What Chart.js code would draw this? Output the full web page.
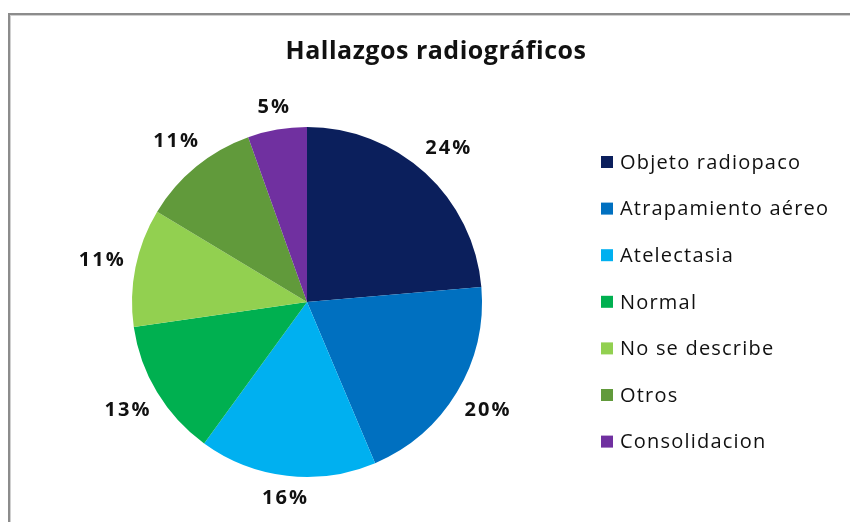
<!DOCTYPE html>
<html>
<head>
<meta charset="utf-8">
<script src="https://cdn.jsdelivr.net/npm/chart.js@4/dist/chart.umd.min.js"></script>
<style>
  html, body { margin: 0; padding: 0; background: #fff; }
  #frame {
    position: absolute; left: 8px; top: 13px; width: 850px; height: 520px;
    border-left: 2px solid #8c8c8c; border-top: 2px solid #8c8c8c;
    box-shadow: inset 1px 1px 0 #d0d0d0;
  }
  #wrap { position: absolute; left: 0; top: 0; width: 850px; height: 522px; }
</style>
</head>
<body>
<div id="frame"></div>
<div id="wrap"><canvas id="chart" width="850" height="522"></canvas></div>
<script>
// Data for the chart (case counts; labels show the rounded share)
const titleText = 'Hallazgos radiográficos';
const categories = ['Objeto radiopaco', 'Atrapamiento aéreo', 'Atelectasia', 'Normal', 'No se describe', 'Otros', 'Consolidacion'];
const counts = [13, 11, 9, 7, 6, 6, 3];
const sliceColors = ['#0b1f5c', '#0070c0', '#00b0f0', '#00b050', '#92d050', '#619a3b', '#7030a0'];

const total = counts.reduce((a, b) => a + b, 0);

// Title, outside labels and legend drawn on the canvas
const extrasPlugin = {
  id: 'extras',
  afterDraw(chart) {
    const ctx = chart.ctx;
    ctx.save();

    // title
    ctx.fillStyle = '#111';
    ctx.font = 'bold 25px "Open Sans"';
    ctx.letterSpacing = '0.5px';
    ctx.textAlign = 'center';
    ctx.textBaseline = 'alphabetic';
    ctx.fillText(titleText, 436, 59);

    // percentage labels outside each slice (box edge sits a small gap off the rim)
    ctx.font = 'bold 20px "Open Sans"';
    ctx.letterSpacing = '2px';
    ctx.textBaseline = 'middle';
    const meta = chart.getDatasetMeta(0);
    meta.data.forEach((arc, i) => {
      const text = Math.round(counts[i] / total * 100) + '%';
      const w = ctx.measureText(text).width;
      const h = 20;
      const mid = (arc.startAngle + arc.endAngle) / 2;
      const c = Math.cos(mid), s = Math.sin(mid);
      const d = arc.outerRadius + 10 + Math.abs(c) * w / 2 + Math.abs(s) * h / 2;
      ctx.fillText(text, arc.x + c * d + 1, arc.y + s * d);
    });

    // legend
    ctx.font = '20px "Open Sans"';
    ctx.letterSpacing = '1.2px';
    ctx.textAlign = 'left';
    categories.forEach((name, i) => {
      const y = 162 + i * 46.6;
      ctx.fillStyle = sliceColors[i];
      ctx.fillRect(601, y - 6, 12, 12);
      ctx.fillStyle = '#111';
      ctx.fillText(name, 620, y + 1);
    });

    ctx.restore();
  }
};

const ctx = document.getElementById('chart').getContext('2d');
new Chart(ctx, {
  type: 'pie',
  data: {
    labels: categories,
    datasets: [{
      data: counts,
      backgroundColor: sliceColors,
      borderWidth: 0,
      radius: 175,
    }],
  },
  options: {
    responsive: false,
    animation: false,
    layout: { padding: { left: 0, right: 236, top: 82, bottom: 0 } },
    plugins: {
      legend: { display: false },
      title: { display: false },
      tooltip: { enabled: false },
    },
  },
  plugins: [extrasPlugin],
});
</script>
</body>
</html>
